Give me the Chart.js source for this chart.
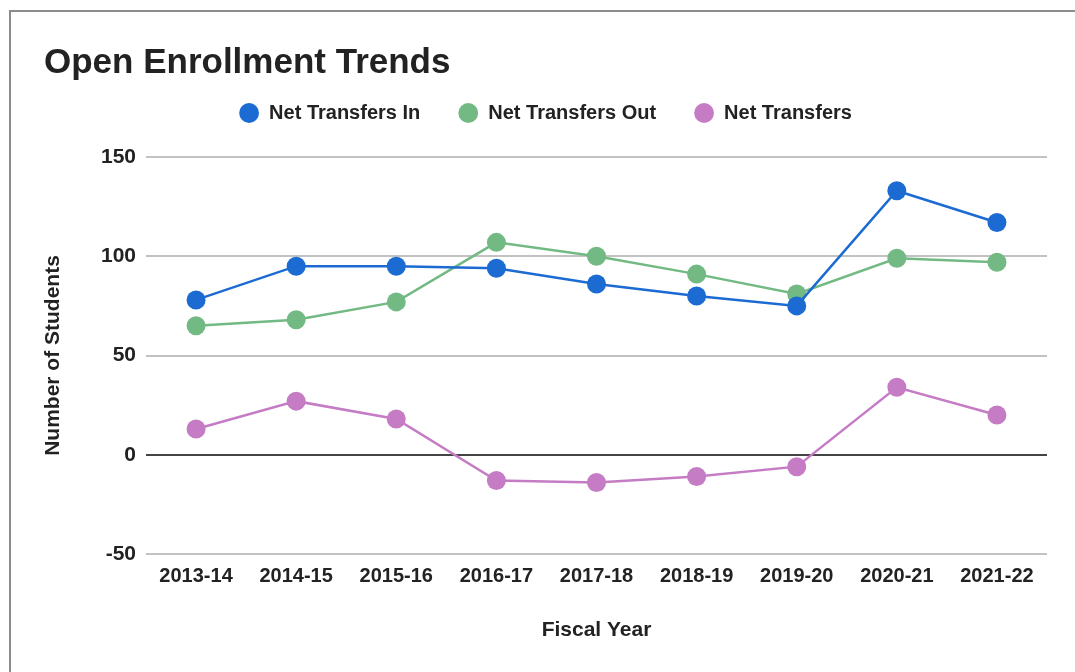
<!DOCTYPE html>
<html>
<head>
<meta charset="utf-8">
<script src="https://cdn.jsdelivr.net/npm/chart.js@4"></script>
<style>
  body { margin: 0; background: #fff; overflow: hidden; }
  #frame {
    position: absolute; left: 9px; top: 10px;
    width: 1100px; height: 670px;
    border-left: 2px solid #8c8c8c; border-top: 2px solid #8c8c8c;
  }
  canvas { display: block; }
</style>
</head>
<body>
<div id="frame"><canvas id="chart" width="1054" height="662"></canvas></div>
<script>
// Open enrollment by fiscal year
const years = ['2013-14', '2014-15', '2015-16', '2016-17', '2017-18', '2018-19', '2019-20', '2020-21', '2021-22'];
const transfersIn = [78, 95, 95, 94, 86, 80, 75, 133, 117];
const transfersOut = [65, 68, 77, 107, 100, 91, 81, 99, 97];
const netTransfers = [13, 27, 18, -13, -14, -11, -6, 34, 20];
const yTicks = [-50, 0, 50, 100, 150];

const FONT = 'Liberation Sans, Arial, sans-serif';

function series(label, data, color) {
  return {
    label: label,
    data: data,
    borderColor: color,
    backgroundColor: color,
    borderWidth: 2.5,
    pointRadius: 9.5,
    pointHoverRadius: 9.5,
    pointBorderWidth: 0,
    tension: 0
  };
}

// extra room between the legend and the plot
const legendSpacing = {
  id: 'legendSpacing',
  beforeLayout(chart) {
    const legend = chart.legend;
    if (legend && !legend._spaced) {
      const fit = legend.fit;
      legend.fit = function () {
        fit.call(this);
        this.height += 24;
      };
      legend._spaced = true;
    }
  }
};

new Chart(document.getElementById('chart'), {
  type: 'line',
  data: {
    labels: years,
    datasets: [
      series('Net Transfers In', transfersIn, '#1c6bd2'),
      series('Net Transfers Out', transfersOut, '#72b983'),
      series('Net Transfers', netTransfers, '#c57cc4')
    ]
  },
  plugins: [legendSpacing],
  options: {
    responsive: false,
    animation: false,
    layout: { padding: { left: 33, right: 18, top: 0, bottom: 31 } },
    plugins: {
      title: {
        display: true,
        text: 'Open Enrollment Trends',
        align: 'start',
        color: '#222',
        font: { family: FONT, size: 35, weight: 'bold' },
        padding: { top: 30, bottom: -19 }
      },
      legend: {
        labels: {
          usePointStyle: true,
          pointStyle: 'circle',
          boxWidth: 20,
          boxHeight: 14,
          padding: 38,
          color: '#222',
          font: { family: FONT, size: 20, weight: 'bold' }
        }
      },
      tooltip: { enabled: false }
    },
    scales: {
      x: {
        offset: true,
        grid: { display: false, drawTicks: false },
        border: { display: false },
        ticks: {
          color: '#222',
          padding: 10,
          maxRotation: 0,
          font: { family: FONT, size: 20, weight: 'bold' }
        },
        title: {
          display: true,
          text: 'Fiscal Year',
          color: '#222',
          padding: { top: 0, bottom: 0 },
          font: { family: FONT, size: 21, weight: 'bold' }
        },
        afterFit: function (scale) { scale.height = 89; }
      },
      y: {
        min: -50,
        max: 150,
        afterBuildTicks: function (scale) {
          scale.ticks = yTicks.map(v => ({ value: v }));
        },
        grid: {
          drawTicks: false,
          lineWidth: 2,
          color: ctx => ctx.tick && ctx.tick.value === 0 ? '#444' : '#c2c2c2'
        },
        border: { display: false },
        ticks: {
          color: '#222',
          padding: 10,
          font: { family: FONT, size: 21, weight: 'bold' }
        },
        title: {
          display: true,
          text: 'Number of Students',
          color: '#222',
          padding: { top: -3, bottom: 0 },
          font: { family: FONT, size: 21, weight: 'bold' }
        },
        afterFit: function (scale) { scale.width = 102; }
      }
    }
  }
});
</script>
</body>
</html>
